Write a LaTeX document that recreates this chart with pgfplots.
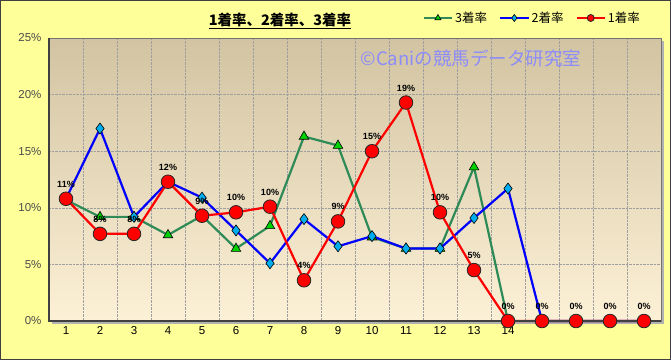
\documentclass[border=0pt]{standalone}
\usepackage{fontspec}
\setmainfont{Liberation Sans}
\newfontfamily\cjk{Noto Sans CJK JP}
\usepackage{pgfplots}
\pgfplotsset{compat=1.18}
\definecolor{bgyellow}{RGB}{255,255,153}
\definecolor{gtop}{RGB}{210,196,162}
\definecolor{gbot}{RGB}{252,240,214}
\definecolor{sgreen}{RGB}{46,139,87}
\definecolor{tgreen}{RGB}{0,210,0}
\definecolor{wm}{RGB}{140,140,250}
\begin{document}
\begin{tikzpicture}[x=1pt,y=1pt]
\useasboundingbox (0,0) rectangle (671,-360);
\fill[bgyellow] (0,0) rectangle (671,-360);
\draw[black!75, line width=1.2pt] (0.6,-0.6) rectangle (670.4,-359.4);
\fill[gray!60] (52,-321) rectangle (664,-324);
\fill[gray!60] (661,-41) rectangle (664,-324);
\begin{axis}[at={(49pt,-321pt)}, anchor=south west, scale only axis,
  width=612pt, height=283pt,
  xmin=0.5, xmax=18.5, ymin=0, ymax=25,
  xtick={1,...,14}, minor xtick={1.5,2.5,...,17.5},
  ytick={0,5,10,15,20,25},
  yticklabels={0\%,5\%,10\%,15\%,20\%,25\%},
  xminorgrids=true, ymajorgrids=true, xmajorgrids=false,
  minor grid style={gray!75, densely dotted, line width=0.6pt},
  major grid style={gray!75, densely dotted, line width=0.6pt},
  major tick length=0pt, minor tick length=0pt,
  /pgf/number format/assume math mode=true,
  y tick label style={font=\fontsize{11.5}{11.5}\selectfont, text=black!70, xshift=-4pt},
  x tick label style={font=\fontsize{11.5}{11.5}\selectfont, yshift=-2pt},
  axis background/.style={top color=gtop, bottom color=gbot},
  axis line style={draw=gray!90!black, line width=1pt},
  legend style={legend columns=3, draw=none, fill=none,
    at={(0.974,1.0707)}, anchor=east,
    font=\cjk\fontsize{12.5}{12.5}\selectfont,
    /tikz/every even column/.append style={column sep=10pt}},
  legend image code/.code={\draw[mark repeat=2,mark phase=2,#1, line width=2pt]
    plot coordinates {(0cm,0cm) (0.5cm,0cm) (1cm,0cm)};},
  legend image post style={mark size=3.5pt},
  clip=false,
]
\addplot[sgreen, line width=2.2pt, mark=triangle*, mark size=5.5pt,
  mark options={fill=tgreen, draw=black, line width=0.6pt}]
  coordinates {(1,10.7) (2,9.2) (3,9.2) (4,7.6) (5,9.3) (6,6.4) (7,8.4) (8,16.3) (9,15.5) (10,7.4) (11,6.4) (12,6.4) (13,13.6) (14,0)};
\addlegendentry{3着率}
\addplot[blue, line width=2.2pt, mark=diamond*, mark size=5.5pt,
  mark options={fill=cyan, draw=black, line width=0.6pt}]
  coordinates {(1,10.8) (2,17.0) (3,9.2) (4,12.3) (5,10.9) (6,8.0) (7,5.1) (8,9.0) (9,6.6) (10,7.5) (11,6.4) (12,6.4) (13,9.1) (14,11.7) (15,0) (16,0) (17,0) (18,0)};
\addlegendentry{2着率}
\addplot[red, line width=2.2pt, mark=*, mark size=6.8pt,
  mark options={fill=red, draw=black!85, line width=0.8pt},
  nodes near coords, point meta=explicit symbolic,
  every node near coord/.append style={font=\bfseries\fontsize{9}{9}\selectfont, text=black, inner sep=1pt, yshift=10pt}]
  coordinates {(1,10.8)[11\%] (2,7.7)[8\%] (3,7.7)[8\%] (4,12.3)[12\%] (5,9.3)[9\%] (6,9.6)[10\%] (7,10.1)[10\%] (8,3.6)[4\%] (9,8.8)[9\%] (10,15.0)[15\%] (11,19.3)[19\%] (12,9.6)[10\%] (13,4.5)[5\%] (14,0)[0\%] (15,0)[0\%] (16,0)[0\%] (17,0)[0\%] (18,0)[0\%]};
\addlegendentry{1着率}
\draw[black!75, line width=1.5pt] (rel axis cs:0,1) -- (rel axis cs:0,0) -- (rel axis cs:1,0);
\end{axis}
\node at (280,-21) {\cjk\bfseries\fontsize{14.5}{14.5}\selectfont\underline{1着率、2着率、3着率}};
\node[text=wm] at (471,-58) {\cjk\fontsize{18.5}{18.5}\selectfont ©Caniの競馬データ研究室};
\end{tikzpicture}
\end{document}
